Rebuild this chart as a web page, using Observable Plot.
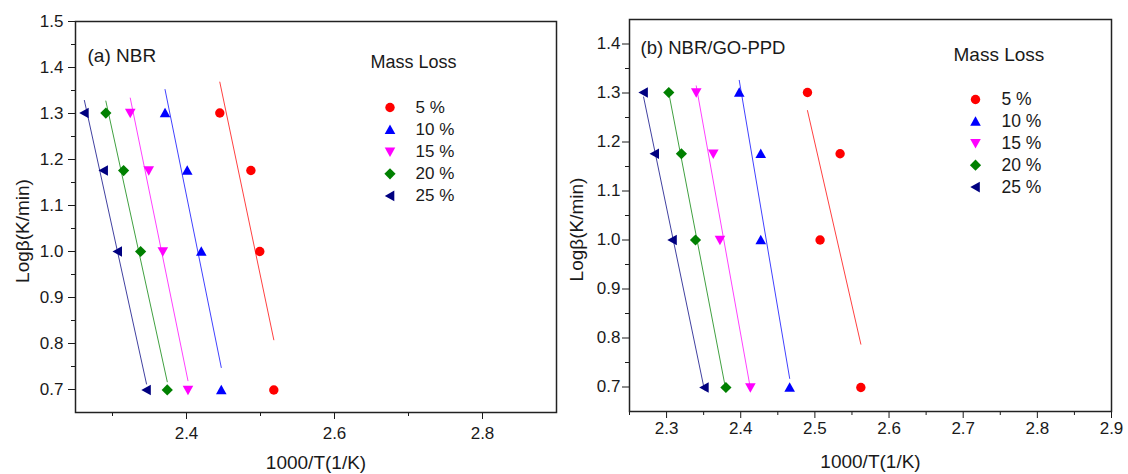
<!DOCTYPE html>
<html>
<head>
<meta charset="utf-8">
<script src="https://cdn.jsdelivr.net/npm/d3@7"></script>
<script src="https://cdn.jsdelivr.net/npm/@observablehq/plot@0.6"></script>
<style>
  body { margin: 0; background: #fff; }
  #wrap { position: relative; width: 1128px; height: 474px; background: #fff; }
  #panelA, #panelB { position: absolute; top: 0; }
  #panelA { left: 0; }
  #panelB { left: 564px; }
</style>
</head>
<body>
<div id="wrap"><div id="panelA"></div><div id="panelB"></div></div>
<script>
// ---- data ----
const seriesLabels = ["5 %", "10 %", "15 %", "20 %", "25 %"];
const seriesColors = ["#ff0000", "#0000ff", "#ff00ff", "#008000", "#000080"];
const logBeta = [1.301, 1.176, 1.0, 0.699]; // log of heating rate 20, 15, 10, 5 K/min

// (a) NBR: 1000/T for each mass loss
const nbr5  = [2.445, 2.487, 2.499, 2.518];
const nbr10 = [2.371, 2.401, 2.420, 2.447];
const nbr15 = [2.324, 2.349, 2.368, 2.402];
const nbr20 = [2.291, 2.315, 2.338, 2.374];
const nbr25 = [2.262, 2.288, 2.307, 2.346];

// (b) NBR/GO-PPD
const goppd5  = [2.490, 2.534, 2.507, 2.562];
const goppd10 = [2.398, 2.427, 2.427, 2.466];
const goppd15 = [2.340, 2.363, 2.372, 2.413];
const goppd20 = [2.303, 2.320, 2.339, 2.380];
const goppd25 = [2.269, 2.284, 2.308, 2.351];

// ticks
const leftYTicks  = [0.7, 0.8, 0.9, 1.0, 1.1, 1.2, 1.3, 1.4, 1.5];
const leftYMinor  = [0.75, 0.85, 0.95, 1.05, 1.15, 1.25, 1.35, 1.45];
const leftXTicks  = [2.4, 2.6, 2.8];
const leftXMinor  = [2.3, 2.5, 2.7];
const rightYTicks = [0.7, 0.8, 0.9, 1.0, 1.1, 1.2, 1.3, 1.4];
const rightYMinor = [0.75, 0.85, 0.95, 1.05, 1.15, 1.25, 1.35];
const rightXTicks = [2.3, 2.4, 2.5, 2.6, 2.7, 2.8, 2.9];
const rightXMinor = [2.25, 2.35, 2.45, 2.55, 2.65, 2.75, 2.85];

const xTitle = "1000/T(1/K)";
const yTitle = "Logβ(K/min)";
const legendTitle = "Mass Loss";

// ---- symbols (fixed-size shapes) ----
function poly(pts) {
  return { draw(ctx) { ctx.moveTo(pts[0][0], pts[0][1]); for (let i = 1; i < pts.length; i++) ctx.lineTo(pts[i][0], pts[i][1]); ctx.closePath(); } };
}
const symCircle = { draw(ctx) { ctx.moveTo(4.7, 0); ctx.arc(0, 0, 4.7, 0, 2 * Math.PI); } };
const symUp = poly([[0, -5.2], [5.3, 4.3], [-5.3, 4.3]]);
const symDown = poly([[0, 5.2], [5.3, -4.3], [-5.3, -4.3]]);
const symDiamond = poly([[0, -5.6], [5.6, 0], [0, 5.6], [-5.6, 0]]);
const symLeft = poly([[-5.2, 0], [4.3, -5.3], [4.3, 5.3]]);
const seriesSymbols = [symCircle, symUp, symDown, symDiamond, symLeft];

function rowsFor(xs) { return xs.map((x, i) => ({ x, y: logBeta[i] })); }

function panel(cfg) {
  const marks = [];
  cfg.series.forEach((xs, i) => {
    const rows = rowsFor(xs);
    marks.push(Plot.linearRegressionY(rows, { x: "x", y: "y", stroke: seriesColors[i], strokeWidth: 1, strokeOpacity: 0.75, ci: 0 }));
    marks.push(Plot.dot(rows, { x: "x", y: "y", symbol: seriesSymbols[i], fill: seriesColors[i], stroke: "none", r: 4 }));
  });
  // axes
  marks.push(Plot.axisY(cfg.yTicks, { tickSize: 7, tickPadding: cfg.yPad, tickFormat: d => d.toFixed(1), fontSize: cfg.tickFont, label: null }));
  marks.push(Plot.axisY(cfg.yMinor, { tickSize: 4, tickFormat: () => "", label: null }));
  marks.push(Plot.axisX(cfg.xTicks, { tickSize: 7, tickPadding: cfg.xPad, tickFormat: d => d.toFixed(1), fontSize: cfg.tickFont, label: null }));
  marks.push(Plot.axisX(cfg.xMinor, { tickSize: 4, tickFormat: () => "", label: null }));
  marks.push(Plot.frame({ stroke: "#222", strokeWidth: 1.5 }));
  // titles
  marks.push(Plot.text([yTitle], { text: d => d, frameAnchor: "left", rotate: -90, dx: cfg.yTitleDx, dy: cfg.yTitleDy, fontSize: 19, textAnchor: "middle", lineAnchor: "middle" }));
  marks.push(Plot.text([xTitle], { text: d => d, frameAnchor: "bottom", dy: 50, fontSize: 19, textAnchor: "middle", lineAnchor: "middle" }));
  marks.push(Plot.text([cfg.panelLabel], { text: d => d, frameAnchor: "top-left", dx: cfg.labelDx, dy: cfg.labelDy, fontSize: cfg.labelFont, textAnchor: "start", lineAnchor: "middle" }));
  // legend
  marks.push(Plot.text([legendTitle], { text: d => d, frameAnchor: "top-left", dx: cfg.legTitleDx, dy: cfg.legTitleDy, fontSize: cfg.legTitleFont, textAnchor: "start", lineAnchor: "middle" }));
  seriesLabels.forEach((lab, i) => {
    const dy = cfg.legDy + i * cfg.legStep;
    marks.push(Plot.dot([0], { frameAnchor: "top-left", dx: cfg.legSymDx, dy, symbol: seriesSymbols[i], fill: seriesColors[i], stroke: "none", r: 4 }));
    marks.push(Plot.text([lab], { text: d => d, frameAnchor: "top-left", dx: cfg.legTextDx, dy, fontSize: cfg.legFont, textAnchor: "start", lineAnchor: "middle" }));
  });
  return Plot.plot({
    width: 564,
    height: 474,
    marginLeft: cfg.ml, marginRight: cfg.mr, marginTop: cfg.mt, marginBottom: cfg.mb,
    style: { fontFamily: "'Liberation Sans', Arial, sans-serif", color: "#1a1a1a", background: "transparent", overflow: "visible" },
    x: { domain: [2.25, 2.9], label: null },
    y: { domain: cfg.yDomain, label: null },
    marks
  });
}

document.getElementById("panelA").append(panel({
  series: [nbr5, nbr10, nbr15, nbr20, nbr25],
  yDomain: [0.65, 1.5], yTicks: leftYTicks, yMinor: leftYMinor, xTicks: leftXTicks, xMinor: leftXMinor,
  ml: 75, mr: 8, mt: 21, mb: 62,
  yPad: 5, xPad: 7, tickFont: 17,
  yTitleDx: -53, yTitleDy: 14,
  panelLabel: "(a) NBR", labelDx: 12, labelDy: 34, labelFont: 19,
  legTitleDx: 295, legTitleDy: 41, legTitleFont: 18,
  legSymDx: 314.5, legTextDx: 340, legDy: 86, legStep: 22.1, legFont: 17
}));

document.getElementById("panelB").append(panel({
  series: [goppd5, goppd10, goppd15, goppd20, goppd25],
  yDomain: [0.65, 1.45], yTicks: rightYTicks, yMinor: rightYMinor, xTicks: rightXTicks, xMinor: rightXMinor,
  ml: 65, mr: 17, mt: 19, mb: 63,
  yPad: 2, xPad: 3, tickFont: 17,
  yTitleDx: -53, yTitleDy: 14,
  panelLabel: "(b) NBR/GO-PPD", labelDx: 11, labelDy: 29, labelFont: 18.5,
  legTitleDx: 324, legTitleDy: 35, legTitleFont: 19,
  legSymDx: 346, legTextDx: 372, legDy: 80, legStep: 21.9, legFont: 17.5
}));
</script>
</body>
</html>
